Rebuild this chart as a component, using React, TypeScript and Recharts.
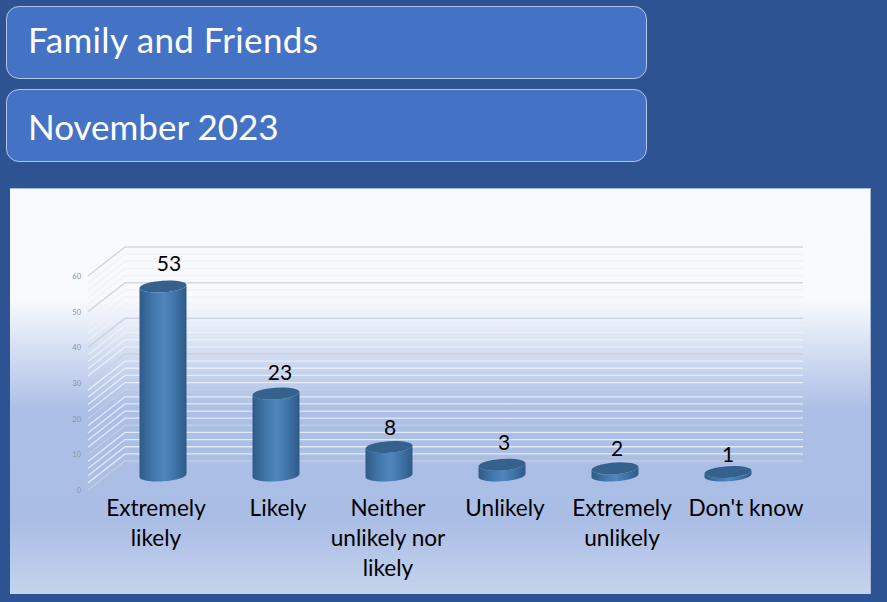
import { Bar, BarChart, CartesianGrid, LabelList, XAxis, YAxis } from "recharts";

const categories = ["Extremely likely", "Likely", "Neither unlikely nor likely", "Unlikely", "Extremely unlikely", "Don't know"];
const values = [53, 23, 8, 3, 2, 1];
const yTicks = [0, 2, 4, 6, 8, 10, 12, 14, 16, 18, 20, 22, 24, 26, 28, 30, 32, 34, 36, 38, 40, 42, 44, 46, 48, 50, 52, 54, 56, 58, 60];
const yLabels = [0, 10, 20, 30, 40, 50, 60];
const titles = ["Family and Friends", "November 2023"];
const titleLineHeights = [65, 72];
const titleSpacing = [0.35, 0];

// how each category label wraps, and how far it sits right of its slot centre
const labelLines = [["Extremely", "likely"], ["Likely"], ["Neither", "unlikely nor", "likely"], ["Unlikely"], ["Extremely", "unlikely"], ["Don't know"]];
const labelNudge = [11.5, 20.5, 17.5, 21.5, 25.5, 36.5];
// value labels are not quite centred on their cylinders in the picture
const valueNudgeX = [6, 4, 1, 2, 2, 0];
const valueNudgeY = [0, 2, 3, 0, 3, 5];

const FONT = "Lato, 'Open Sans', sans-serif";
const PLOT_LEFT = 88;
const PLOT_BOTTOM = 490;
const UNITS_PER_PX = 60 / 214;
const DEPTH_X = 37;
const DEPTH_Y = 29;
const BACK_RIGHT = 803;
const TILT = -4;

const chartData = categories.map((name, i) => ({ name, value: values[i] }));

// wall lines: front diagonal up the side wall, then across the back wall
const WallLine = ({ y1 }: any) => {
  const tickValue = Math.round((PLOT_BOTTOM - y1) * UNITS_PER_PX);
  const major = tickValue % 10 === 0;
  return (
    <path
      d={`M${PLOT_LEFT} ${y1}L${PLOT_LEFT + DEPTH_X} ${y1 - DEPTH_Y}L${BACK_RIGHT} ${y1 - DEPTH_Y}`}
      fill="none"
      stroke={major ? "#c9ced9" : "#eef1f7"}
      strokeWidth={major ? 1.5 : 1.3}
      strokeOpacity={major ? 0.8 : 0.85}
    />
  );
};

const AxisLabel = ({ y, payload }: any) => (
  <text x={PLOT_LEFT - 7} y={y + 3} textAnchor="end" fontSize={7.5} fill="#8b93a6" fontFamily={FONT}>
    {payload.value}
  </text>
);

const CategoryTick = ({ x, y, index }: any) => (
  <text textAnchor="middle" fontSize={22.6} fill="#000" fontFamily={FONT}>
    {labelLines[index].map((line: string, i: number) => (
      <tspan key={line} x={x + labelNudge[index]} y={y + 18 + i * 30}>
        {line}
      </tspan>
    ))}
  </text>
);

const Cylinder = ({ x, y, width, height }: any) => {
  const cx = x + width / 2 + DEPTH_X / 2;
  const rx = width / 2;
  const ry = 5.8;
  const top = y - DEPTH_Y / 2;
  const bottom = top + height;
  const t = rx * Math.sin((-TILT * Math.PI) / 180);
  const body =
    `M${cx - rx} ${top + t}L${cx - rx} ${bottom + t}` +
    `A${rx} ${ry} ${TILT} 0 0 ${cx + rx} ${bottom - t}` +
    `L${cx + rx} ${top - t}A${rx} ${ry} ${TILT} 0 1 ${cx - rx} ${top + t}Z`;
  return (
    <g>
      <path d={body} fill="url(#cylinderSide)" />
      <ellipse cx={cx} cy={top} rx={rx} ry={ry} fill="#35628c" transform={`rotate(${TILT} ${cx} ${top})`} />
    </g>
  );
};

const ValueLabel = ({ x, y, width, value, index }: any) => (
  <text
    x={x + width / 2 + DEPTH_X / 2 + valueNudgeX[index]}
    y={y - DEPTH_Y / 2 - 15 + valueNudgeY[index]}
    textAnchor="middle"
    fontSize={21}
    fill="#000"
    fontFamily={FONT}
  >
    {value}
  </text>
);

const App = () => (
  <div style={{ position: "absolute", left: 0, top: 0, width: 887, height: 602, background: "#2e5393", overflow: "hidden" }}>
    {titles.map((title, i) => (
      <div
        key={title}
        style={{
          position: "absolute",
          left: 6,
          top: 6 + i * 83,
          width: 641,
          height: 73,
          boxSizing: "border-box",
          background: "#4472c4",
          border: "1.5px solid #b4c4e4",
          borderRadius: 13,
          color: "#fff",
          fontFamily: FONT,
          fontSize: 35,
          letterSpacing: titleSpacing[i],
          lineHeight: `${titleLineHeights[i]}px`,
          paddingLeft: 21,
        }}
      >
        {title}
      </div>
    ))}
    <div
      style={{
        position: "absolute",
        left: 10,
        top: 188,
        width: 861,
        height: 406,
        boxSizing: "border-box",
        borderRight: "1px solid #a9b8d4",
        borderTop: "1px solid #a9b8d4",
        background: "linear-gradient(180deg,#f8fafd 0%,#f7f9fd 27.5%,#acbfe6 54.5%,#aabde5 82%,#c5d3ec 100%)",
      }}
    />
    <div style={{ position: "absolute", left: 0, top: 0 }}>
      <BarChart width={887} height={602} data={chartData} barSize={47} margin={{ top: 276, right: 121, bottom: 20, left: 10 }}>
        <defs>
          <linearGradient id="cylinderSide" x1="0" y1="0" x2="1" y2="0">
            <stop offset="0%" stopColor="#2f5a86" />
            <stop offset="25%" stopColor="#3f74a8" />
            <stop offset="52%" stopColor="#4f86bb" />
            <stop offset="75%" stopColor="#3f74a8" />
            <stop offset="100%" stopColor="#2e5a85" />
          </linearGradient>
        </defs>
        <CartesianGrid vertical={false} horizontal={WallLine} horizontalValues={yTicks} />
        <YAxis width={78} domain={[0, 60]} ticks={yLabels} interval={0} tick={AxisLabel} tickLine={false} axisLine={false} />
        <XAxis dataKey="name" height={92} interval={0} tick={CategoryTick} tickLine={false} axisLine={false} />
        <Bar dataKey="value" shape={Cylinder} isAnimationActive={false}>
          <LabelList dataKey="value" content={ValueLabel} />
        </Bar>
      </BarChart>
    </div>
  </div>
);

export default App;
